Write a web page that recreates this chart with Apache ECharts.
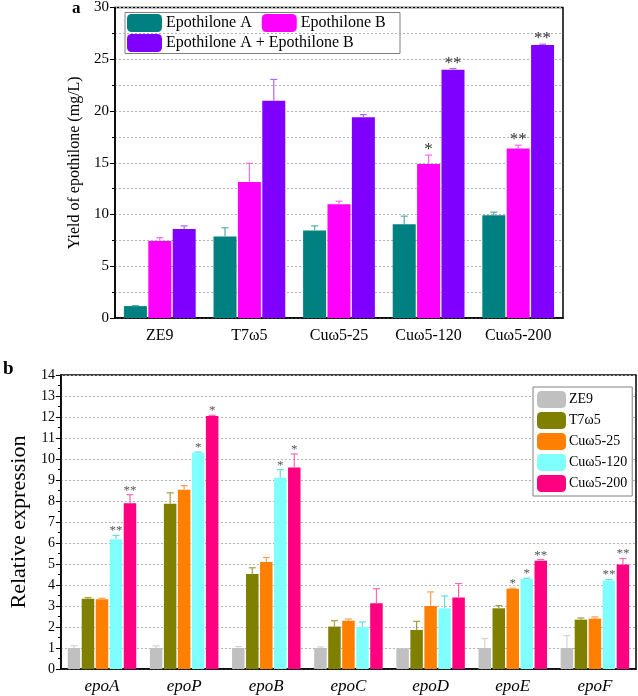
<!DOCTYPE html>
<html>
<head>
<meta charset="utf-8">
<script src="https://cdn.jsdelivr.net/npm/echarts@6/dist/echarts.min.js"></script>
<style>html,body{margin:0;padding:0;background:#fff;}#c{width:638px;height:696px;}</style>
</head>
<body>
<div id="c"></div>
<script>
// ---------- Panel a data ----------
const topCategories = ['ZE9', 'T7ω5', 'Cuω5-25', 'Cuω5-120', 'Cuω5-200'];
const topSeriesNames = ['Epothilone A', 'Epothilone B', 'Epothilone A + Epothilone B'];
const yieldA = [1.15, 7.88, 8.46, 9.07, 9.93];
const yieldAErr = [0.05, 0.84, 0.44, 0.77, 0.29];
const yieldB = [7.43, 13.14, 10.99, 14.87, 16.38];
const yieldBErr = [0.33, 1.80, 0.29, 0.87, 0.32];
const yieldAB = [8.59, 21.0, 19.39, 23.98, 26.38];
const yieldABErr = [0.31, 2.05, 0.26, 0.12, 0.07];
const sigA = ['', '', '', '', ''];
const sigB = ['', '', '', '*', '**'];
const sigAB = ['', '', '', '**', '**'];

// ---------- Panel b data ----------
const genes = ['epoA', 'epoP', 'epoB', 'epoC', 'epoD', 'epoE', 'epoF'];
const strainNames = ['ZE9', 'T7ω5', 'Cuω5-25', 'Cuω5-120', 'Cuω5-200'];
const exprZE9 = [1.0, 1.0, 1.0, 1.0, 0.99, 1.0, 1.0];
const exprZE9Err = [0.11, 0.10, 0.07, 0.05, 0, 0.45, 0.59];
const exprT7 = [3.35, 7.87, 4.52, 2.02, 1.86, 2.89, 2.35];
const exprT7Err = [0.05, 0.52, 0.30, 0.28, 0.41, 0.13, 0.08];
const exprCu25 = [3.32, 8.54, 5.10, 2.30, 3.00, 3.82, 2.40];
const exprCu25Err = [0.05, 0.19, 0.21, 0.08, 0.67, 0.03, 0.08];
const exprCu120 = [6.18, 10.30, 9.11, 2.00, 2.89, 4.29, 4.21];
const exprCu120Err = [0.18, 0.03, 0.38, 0.24, 0.59, 0.03, 0.05];
const exprCu200 = [7.89, 12.05, 9.59, 3.13, 3.40, 5.15, 4.98];
const exprCu200Err = [0.41, 0.03, 0.65, 0.69, 0.67, 0.06, 0.28];
const sigZE9 = ['', '', '', '', '', '', ''];
const sigT7 = ['', '', '', '', '', '', ''];
const sigCu25 = ['', '', '', '', '', '*', ''];
const sigCu120 = ['**', '*', '*', '', '', '*', '**'];
const sigCu200 = ['**', '*', '*', '', '', '**', '**'];

const topColors = ['#008080', '#FF00FF', '#8000FF'];
const topErrColors = ['#5aa8a8', '#ff66ff', '#b066ff'];
const botColors = ['#C0C0C0', '#808000', '#FF8000', '#80FFFF', '#FF0080'];
const botErrColors = ['#d4d4d4', '#a0a040', '#ffa050', '#60e0e0', '#ff66b0'];

const FONT = 'Liberation Serif, Times New Roman, serif';

function errRenderer(offset, capHalf, color, sigs, sigFont, sigColor, sigGap) {
  return function (params, api) {
    const ci = api.value(0), v = api.value(1), e = api.value(2);
    const base = api.coord([ci, v]);
    const top = api.coord([ci, v + e]);
    const x = base[0] + offset;
    const children = [];
    if (e > 0) {
      children.push({ type: 'line', shape: { x1: x, y1: base[1], x2: x, y2: top[1] }, style: { stroke: color, lineWidth: 1.2 } });
      children.push({ type: 'line', shape: { x1: x - capHalf, y1: top[1], x2: x + capHalf, y2: top[1] }, style: { stroke: color, lineWidth: 1.2 } });
    }
    const s = sigs[params.dataIndex];
    if (s) {
      children.push({ type: 'text', style: { text: s, x: x, y: top[1] + sigGap, align: 'center', verticalAlign: 'bottom', font: sigFont, fill: sigColor } });
    }
    return { type: 'group', children: children };
  };
}

const topW = 23, topGapPct = 6;
const topStep = topW * (1 + topGapPct / 100);
const botW = 12.5, botGapPct = 12;
const botStep = botW * (1 + botGapPct / 100);

const series = [];
const topVals = [yieldA, yieldB, yieldAB];
const topErrs = [yieldAErr, yieldBErr, yieldABErr];
const topSigs = [sigA, sigB, sigAB];
topVals.forEach((vals, i) => {
  series.push({
    name: topSeriesNames[i], type: 'bar', xAxisIndex: 0, yAxisIndex: 0,
    data: vals, barWidth: topW, barGap: topGapPct + '%',
    itemStyle: { color: topColors[i] }
  });
});
topVals.forEach((vals, i) => {
  series.push({
    type: 'custom', xAxisIndex: 0, yAxisIndex: 0, z: 5,
    data: vals.map((v, k) => [k, v, topErrs[i][k]]),
    renderItem: errRenderer((i - 1) * topStep, 3.5, topErrColors[i], topSigs[i], '17px ' + FONT, '#333', 3)
  });
});

const botVals = [exprZE9, exprT7, exprCu25, exprCu120, exprCu200];
const botErrs = [exprZE9Err, exprT7Err, exprCu25Err, exprCu120Err, exprCu200Err];
const botSigs = [sigZE9, sigT7, sigCu25, sigCu120, sigCu200];
botVals.forEach((vals, i) => {
  series.push({
    name: strainNames[i], type: 'bar', xAxisIndex: 1, yAxisIndex: 1,
    data: vals, barWidth: botW, barGap: botGapPct + '%',
    itemStyle: { color: botColors[i] }
  });
});
botVals.forEach((vals, i) => {
  series.push({
    type: 'custom', xAxisIndex: 1, yAxisIndex: 1, z: 5,
    data: vals.map((v, k) => [k, v, botErrs[i][k]]),
    renderItem: errRenderer((i - 2) * botStep, 3.5, botErrColors[i], botSigs[i], '13px ' + FONT, '#555', 2)
  });
});

const dotted = { show: true, lineStyle: { color: '#b0b0b0', type: [2, 2], width: 1 } };

const option = {
  animation: false,
  backgroundColor: '#fff',
  textStyle: { fontFamily: FONT },
  grid: [
    { left: 115, top: 6, width: 448, height: 312, show: true, borderColor: '#000', borderWidth: 1.5, containLabel: false },
    { left: 49, top: 375, width: 587, height: 294, show: true, borderColor: '#000', borderWidth: 1.5, containLabel: false }
  ],
  xAxis: [
    { type: 'category', gridIndex: 0, data: topCategories,
      axisLine: { lineStyle: { color: '#000', width: 1.5 } }, axisTick: { show: false },
      axisLabel: { color: '#000', fontFamily: FONT, fontSize: 16, margin: 10 } },
    { type: 'category', gridIndex: 1, data: genes,
      axisLine: { lineStyle: { color: '#000', width: 1.5 } }, axisTick: { show: false },
      axisLabel: { color: '#000', fontFamily: FONT, fontSize: 17, fontStyle: 'italic', margin: 9 } }
  ],
  yAxis: [
    { type: 'value', gridIndex: 0, min: 0, max: 30, interval: 5,
      name: 'Yield of epothilone (mg/L)', nameLocation: 'middle', nameGap: 32,
      nameTextStyle: { color: '#000', fontFamily: FONT, fontSize: 16 },
      axisLine: { show: true, lineStyle: { color: '#000', width: 1.5 } },
      axisTick: { show: true, length: 5, lineStyle: { color: '#000' } },
      minorTick: { show: true, splitNumber: 2, length: 3, lineStyle: { color: '#000' } },
      splitLine: dotted, minorSplitLine: dotted,
      axisLabel: { color: '#000', fontFamily: FONT, fontSize: 15, margin: 6 } },
    { type: 'value', gridIndex: 1, min: 0, max: 14, interval: 1,
      name: 'Relative expression', nameLocation: 'middle', nameGap: 27,
      nameTextStyle: { color: '#000', fontFamily: FONT, fontSize: 22 },
      axisLine: { show: true, lineStyle: { color: '#000', width: 1.5 } },
      axisTick: { show: true, length: 5, lineStyle: { color: '#000' } },
      minorTick: { show: true, splitNumber: 2, length: 3, lineStyle: { color: '#000' } },
      splitLine: dotted,
      axisLabel: { color: '#000', fontFamily: FONT, fontSize: 14, margin: 6 } }
  ],
  legend: [
    { data: topSeriesNames.slice(0, 2), left: 127, top: 14, orient: 'horizontal', itemWidth: 35, itemHeight: 18, itemGap: 10,
      padding: 0, textStyle: { color: '#000', fontFamily: FONT, fontSize: 16, padding: [0, 0, 0, -1] } },
    { data: topSeriesNames.slice(2), left: 127, top: 34, orient: 'horizontal', itemWidth: 35, itemHeight: 18,
      padding: 0, textStyle: { color: '#000', fontFamily: FONT, fontSize: 16, padding: [0, 0, 0, -1] } },
    { data: strainNames, left: 533, top: 387, orient: 'vertical', itemWidth: 29, itemHeight: 17, itemGap: 4,
      padding: [4, 5, 4, 4], borderColor: '#808080', borderWidth: 1, backgroundColor: '#fff',
      textStyle: { color: '#000', fontFamily: FONT, fontSize: 14, padding: [0, 0, 0, -2] } }
  ],
  graphic: [
    { type: 'rect', shape: { x: 125, y: 12.5, width: 275, height: 41 }, style: { fill: '#fff', stroke: '#808080', lineWidth: 1 }, z: 0, zlevel: 0 },
    { type: 'text', left: 72, top: 0, style: { text: 'a', font: 'bold 17px ' + FONT, fill: '#000' } },
    { type: 'text', left: 3, top: 360, style: { text: 'b', font: 'bold 19px ' + FONT, fill: '#000' } }
  ],
  series: series
};

const chart = echarts.init(document.getElementById('c'), null, { renderer: 'canvas' });
chart.setOption(option);
</script>
</body>
</html>
